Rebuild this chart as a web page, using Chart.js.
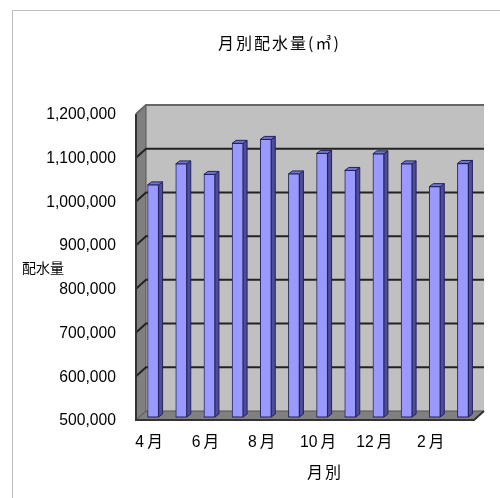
<!DOCTYPE html>
<html>
<head>
<meta charset="utf-8">
<style>
html, body { margin: 0; padding: 0; background: #fff; }
#wrap { width: 500px; height: 498px; }
</style>
<script src="https://cdn.jsdelivr.net/npm/chart.js@4"></script>
</head>
<body>
<div id="wrap"><canvas id="chart" width="500" height="498"></canvas></div>
<script>
const months = ["4月", "5月", "6月", "7月", "8月", "9月", "10月", "11月", "12月", "1月", "2月", "3月"];
const volumes = [1031000, 1079000, 1055000, 1126000, 1135000, 1056000, 1103000, 1064000, 1102000, 1079000, 1027000, 1080000];
const chartTitle = "月別配水量(㎥)";
const xTitle = "月別";
const yTitle = "配水量";

const jpFont = '"Noto Sans CJK JP", "Liberation Sans", sans-serif';
const depthX = 10, depthY = 9;   // wall depth
const barDX = 3, barDY = 3;      // bars stand a little behind the front edge
const sideX = 4, sideY = 3;      // bar side and cap

function poly(ctx, pts, fill, stroke) {
    ctx.beginPath();
    pts.forEach((p, i) => i ? ctx.lineTo(p[0], p[1]) : ctx.moveTo(p[0], p[1]));
    ctx.closePath();
    ctx.fillStyle = fill;
    ctx.fill();
    ctx.strokeStyle = stroke;
    ctx.lineWidth = 1;
    ctx.stroke();
}

function label(ctx, text, x, y, size, spacing, align) {
    ctx.font = size + "px " + jpFont;
    ctx.letterSpacing = spacing + "px";
    ctx.textAlign = align;
    ctx.textBaseline = "middle";
    ctx.fillStyle = "#000";
    ctx.fillText(text, x, y);
}

// walls, floor and gridlines, all hung on the chart's own scales
const walls = {
    id: "walls",
    beforeDatasetsDraw(chart) {
        const { ctx, chartArea: a, scales: { y } } = chart;
        ctx.save();
        ctx.fillStyle = "#c0c0c0";
        ctx.fillRect(a.left + depthX, a.top - depthY, a.width, a.height);
        poly(ctx, [[a.left, a.top], [a.left + depthX, a.top - depthY], [a.left + depthX, a.bottom - depthY], [a.left, a.bottom]], "#808080", "#555");
        poly(ctx, [[a.left, a.bottom], [a.left + depthX, a.bottom - depthY], [a.right + depthX, a.bottom - depthY], [a.right, a.bottom]], "#808080", "#555");
        ctx.strokeStyle = "#222";
        ctx.lineWidth = 2;
        y.ticks.forEach(t => {
            const py = y.getPixelForValue(t.value);
            if (t.value === y.min || t.value === y.max) return;
            ctx.beginPath();
            ctx.moveTo(a.left, py);
            ctx.lineTo(a.left + depthX, py - depthY);
            ctx.lineTo(a.right + depthX, py - depthY);
            ctx.stroke();
        });
        ctx.strokeStyle = "#666";
        ctx.beginPath();
        ctx.moveTo(a.left, a.top);
        ctx.lineTo(a.left + depthX, a.top - depthY);
        ctx.lineTo(a.right + depthX, a.top - depthY);
        ctx.stroke();
        ctx.strokeStyle = "#333";
        ctx.beginPath();
        ctx.moveTo(a.left, a.top);
        ctx.lineTo(a.left, a.bottom);
        ctx.lineTo(a.right, a.bottom);
        ctx.lineTo(a.right + depthX, a.bottom - depthY);
        ctx.stroke();
        ctx.restore();

        // bar sides and caps go under the front faces
        ctx.save();
        ctx.translate(barDX, -barDY);
        chart.getDatasetMeta(0).data.forEach(bar => {
            const l = bar.x - bar.width / 2, r = bar.x + bar.width / 2;
            const base = a.bottom;
            poly(ctx, [[r, bar.y], [r + sideX, bar.y - sideY], [r + sideX, base - sideY], [r, base]], "#4d4d99", "#23235c");
            poly(ctx, [[l, bar.y], [l + sideX, bar.y - sideY], [r + sideX, bar.y - sideY], [r, bar.y]], "#7373cc", "#23235c");
        });
        ctx.restore();
        ctx.save();
        ctx.translate(barDX, -barDY);
    },
    afterDatasetsDraw(chart) {
        const { ctx, chartArea: a } = chart;
        // clipped bars lose their bottom edge
        ctx.strokeStyle = "#23235c";
        ctx.lineWidth = 1;
        chart.getDatasetMeta(0).data.forEach(bar => {
            ctx.beginPath();
            ctx.moveTo(bar.x - bar.width / 2, a.bottom);
            ctx.lineTo(bar.x + bar.width / 2, a.bottom);
            ctx.stroke();
        });
        ctx.restore();
    },
    afterDraw(chart) {
        const { ctx } = chart;
        ctx.save();
        // outer frame of the sheet, only top and left show
        ctx.strokeStyle = "#bbb";
        ctx.lineWidth = 1;
        ctx.beginPath();
        ctx.moveTo(500, 10.5);
        ctx.lineTo(12.5, 10.5);
        ctx.lineTo(12.5, 498);
        ctx.stroke();
        // titles sit off-centre in the reference, so they are placed by hand
        label(ctx, chartTitle, 218, 43, 16, 2, "left");
        label(ctx, xTitle, 307, 472, 16, 2, "left");
        label(ctx, yTitle, 22, 268, 14, 0, "left");
        ctx.restore();
    }
};

new Chart(document.getElementById("chart"), {
    type: "bar",
    data: {
        labels: months,
        datasets: [{
            data: volumes,
            backgroundColor: "#9999ff",
            borderColor: "#23235c",
            borderWidth: 1,
            barThickness: 11
        }]
    },
    plugins: [walls],
    options: {
        responsive: false,
        animation: false,
        layout: { padding: { top: 114, left: 0, right: 26, bottom: 16 } },
        plugins: {
            legend: { display: false },
            tooltip: { enabled: false }
        },
        scales: {
            x: {
                grid: { display: false },
                border: { display: false },
                afterFit(s) { s.height = 62; },
                ticks: {
                    autoSkip: false,
                    maxRotation: 0,
                    color: "#000",
                    padding: 5,
                    labelOffset: -1,
                    font: { family: '"Liberation Sans", "Noto Sans CJK JP", sans-serif', size: 15.7 },
                    callback(v, i) { return i % 2 ? "" : months[i].replace("月", "\u2009月"); }
                }
            },
            y: {
                min: 500000,
                max: 1200000,
                grid: { display: false },
                border: { display: false },
                afterFit(s) { s.width = 136; },
                ticks: {
                    stepSize: 100000,
                    color: "#000",
                    padding: 12,
                    labelOffset: 1,
                    font: { family: '"Liberation Sans", sans-serif', size: 15.7 },
                    callback: v => v.toLocaleString("en-US")
                }
            }
        }
    }
});
</script>
</body>
</html>
